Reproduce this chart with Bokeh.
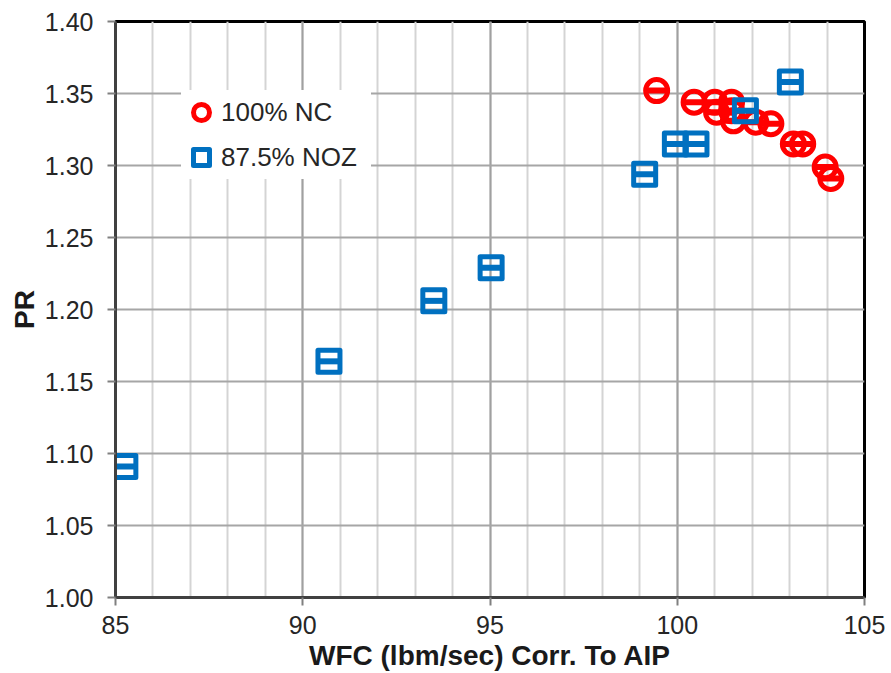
from bokeh.plotting import figure
from bokeh.models import FixedTicker, Legend, LegendItem, Range1d, NumeralTickFormatter
from bokeh.embed import file_html
from bokeh.resources import INLINE

# --- data ---
nc_x = [99.45, 100.45, 101.0, 101.05, 101.45, 101.45, 101.5, 102.1, 102.5, 103.1, 103.35, 103.95, 104.1]
nc_y = [1.352, 1.344, 1.344, 1.337, 1.344, 1.338, 1.331, 1.330, 1.329, 1.315, 1.315, 1.299, 1.291]
noz_x = [85.25, 90.7, 93.5, 95.03, 99.13, 99.95, 100.5, 101.82, 103.02]
noz_y = [1.091, 1.164, 1.206, 1.229, 1.294, 1.315, 1.315, 1.338, 1.358]
x_ticks = [85, 90, 95, 100, 105]
x_minor = list(range(85, 106))
y_ticks = [1.00, 1.05, 1.10, 1.15, 1.20, 1.25, 1.30, 1.35, 1.40]
series_names = ["100% NC", "87.5% NOZ"]
x_title = "WFC (lbm/sec) Corr. To AIP"
y_title = "PR"

RED = "#FF0000"
BLUE = "#0070C0"
FONT = "Liberation Sans"
TXT = "#262626"

p = figure(width=891, height=673, output_backend="svg", toolbar_location=None,
           x_range=Range1d(85, 105), y_range=Range1d(1.0, 1.4),
           min_border_left=115, min_border_top=21, min_border_right=27, min_border_bottom=76)
p.background_fill_color = "white"
p.border_fill_color = "white"
p.outline_line_color = "black"
p.outline_line_width = 3

p.xaxis.ticker = FixedTicker(ticks=x_ticks, minor_ticks=x_minor)
p.yaxis.ticker = FixedTicker(ticks=y_ticks, minor_ticks=[])
p.xaxis.formatter = NumeralTickFormatter(format="0")
p.yaxis.formatter = NumeralTickFormatter(format="0.00")

for ax in (p.xaxis[0], p.yaxis[0]):
    ax.axis_line_color = "#404040"
    ax.axis_line_width = 3
    ax.major_tick_line_color = "#808080"
    ax.major_tick_line_width = 2
    ax.major_tick_out = 8
    ax.major_tick_in = 0
    ax.minor_tick_line_color = None
    ax.major_label_text_font = FONT
    ax.major_label_text_font_size = "25px"
    ax.major_label_text_color = TXT
    ax.axis_label_text_font = FONT
    ax.axis_label_text_font_size = "28px"
    ax.axis_label_text_font_style = "bold"
    ax.axis_label_text_color = "#1a1a1a"

p.xaxis.axis_label = x_title
p.yaxis.axis_label = y_title
p.xaxis.major_label_standoff = 10
p.xaxis.axis_label_standoff = 3
p.yaxis.major_label_standoff = 14
p.yaxis.axis_label_standoff = 2

p.xgrid.grid_line_color = "#A0A0A0"
p.xgrid.grid_line_width = 2
p.xgrid.minor_grid_line_color = "#D4D4D4"
p.xgrid.minor_grid_line_width = 2
p.ygrid.grid_line_color = "#A6A6A6"
p.ygrid.grid_line_width = 2

# data markers: thick ring + horizontal bar, no fill
r_nc = p.scatter(nc_x, nc_y, marker="circle", size=22, line_color=RED, line_width=5, fill_alpha=0)
p.scatter(nc_x, nc_y, marker="dash", size=22, line_color=RED, line_width=6)
r_noz = p.scatter(noz_x, noz_y, marker="square", size=22, line_color=BLUE, line_width=5,
                  fill_alpha=0, line_join="round")
p.scatter(noz_x, noz_y, marker="dash", size=22, line_color=BLUE, line_width=6)

legend = Legend(items=[LegendItem(label=series_names[0], renderers=[r_nc]),
                       LegendItem(label=series_names[1], renderers=[r_noz])],
                location=(66, 418))
legend.glyph_width = 40
legend.glyph_height = 44
legend.padding = 0
legend.spacing = 1
legend.margin = 0
legend.label_standoff = 0
legend.label_width = 150
legend.label_text_font = FONT
legend.label_text_font_size = "26px"
legend.label_text_color = TXT
legend.border_line_color = None
legend.background_fill_color = "white"
legend.background_fill_alpha = 1.0
p.add_layout(legend)

open("out.html", "w").write(file_html(p, INLINE))
